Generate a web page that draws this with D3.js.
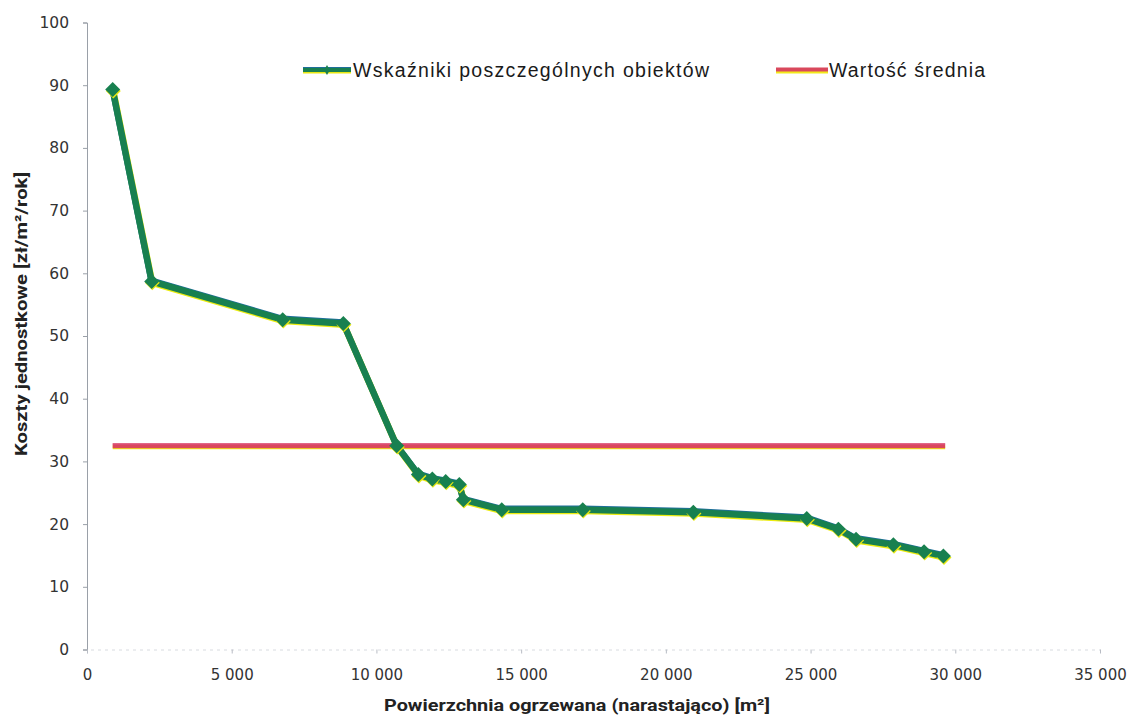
<!DOCTYPE html>
<html><head><meta charset="utf-8">
<script src="https://cdn.jsdelivr.net/npm/d3@7"></script>
<style>body{margin:0;background:#fff}svg{display:block}</style>
</head><body><svg id="c" width="1134" height="721"></svg>
<script>
const areaCum = [888, 2235, 6762, 8857, 10700, 11448, 11931, 12394, 12864, 13003, 14330, 17128, 20950, 24868, 25961, 26572, 27861, 28922, 29589];
const unitCost = [89.3, 58.7, 52.6, 52.0, 32.5, 27.9, 27.2, 26.8, 26.3, 23.9, 22.3, 22.3, 21.9, 20.9, 19.2, 17.6, 16.7, 15.6, 14.9];
const meanX = [888, 29650];
const meanValue = 32.5;
const xTicks = [0, 5000, 10000, 15000, 20000, 25000, 30000, 35000];
const yTicks = [0, 10, 20, 30, 40, 50, 60, 70, 80, 90, 100];
const seriesNames = ["Wskaźniki poszczególnych obiektów", "Wartość średnia"];
const xTitle = "Powierzchnia ogrzewana (narastająco) [m²]";
const yTitle = "Koszty jednostkowe [zł/m²/rok]";

const svg = d3.select("#c");
const x = d3.scaleLinear().domain([0, 35000]).range([87, 1100]);
const y = d3.scaleLinear().domain([0, 100]).range([649.5, 22.5]);
const fmt = v => v === 0 ? "0" : d3.format(",")(v).replace(/,/g, " ");

// axes
const yAxis = d3.axisLeft(y).tickValues(yTicks).tickSize(4).tickPadding(14).tickFormat(d => d);
const gy = svg.append("g").attr("transform", `translate(${x(0)},0)`).call(yAxis);
gy.select(".domain").attr("stroke", "#9aa0a8").attr("stroke-width", 1);
gy.selectAll(".tick line").attr("stroke", "#9aa0a8");
gy.selectAll("text").attr("font-family", "DejaVu Sans, Verdana, sans-serif").attr("font-size", 15.5).attr("fill", "#333");

const xAxis = d3.axisBottom(x).tickValues(xTicks).tickSize(4).tickPadding(16).tickFormat(fmt);
const gx = svg.append("g").attr("transform", `translate(0,${y(0)})`).call(xAxis);
gx.select(".domain").attr("stroke", "#d8dbe0").attr("stroke-width", 1).attr("stroke-dasharray", "3,4");
gx.selectAll(".tick line").attr("stroke", "#b8bcc4");
gx.selectAll("text").attr("font-family", "DejaVu Sans, Verdana, sans-serif").attr("font-size", 15).attr("fill", "#333");

// titles
svg.append("text").attr("x", 577).attr("y", 711).attr("text-anchor", "middle")
  .attr("font-family", "Roboto, Liberation Sans, sans-serif").attr("font-weight", "bold")
  .attr("font-size", 17).attr("fill", "#222").attr("textLength", 386).attr("lengthAdjust", "spacingAndGlyphs").text(xTitle);
svg.append("text").attr("transform", "translate(27,314) rotate(-90)").attr("text-anchor", "middle")
  .attr("font-family", "Roboto, Liberation Sans, sans-serif").attr("font-weight", "bold")
  .attr("font-size", 17).attr("fill", "#222").attr("textLength", 284).attr("lengthAdjust", "spacingAndGlyphs").text(yTitle);

// mean line
const meanData = meanX.map(v => [v, meanValue]);
const lineGen = d3.line().x(d => x(d[0])).y(d => y(d[1]));
svg.append("path").datum(meanData).attr("d", lineGen).attr("transform", "translate(0,1.6)")
  .attr("stroke", "#f2ea1a").attr("stroke-width", 4).attr("fill", "none");
svg.append("path").datum(meanData).attr("d", lineGen)
  .attr("stroke", "#d9485c").attr("stroke-width", 5).attr("fill", "none");
svg.append("path").datum(meanData).attr("d", lineGen).attr("transform", "translate(0,-1.6)")
  .attr("stroke", "#e0508a").attr("stroke-width", 1.2).attr("fill", "none").attr("opacity", 0.7);

// data series
const pts = areaCum.map((v, i) => [v, unitCost[i]]);
const gS = svg.append("g");
gS.append("path").datum(pts).attr("d", lineGen).attr("transform", "translate(0.6,1.4)")
  .attr("stroke", "#ecec10").attr("stroke-width", 6.5).attr("fill", "none").attr("stroke-linejoin", "round");
gS.append("path").datum(pts).attr("d", lineGen).attr("transform", "translate(-0.5,-1.1)")
  .attr("stroke", "#1f6f9a").attr("stroke-width", 6).attr("fill", "none").attr("stroke-linejoin", "round");
gS.append("path").datum(pts).attr("d", lineGen)
  .attr("stroke", "#188050").attr("stroke-width", 6.5).attr("fill", "none").attr("stroke-linejoin", "round");
const marker = d3.symbol().type(d3.symbolSquare).size(112);
gS.selectAll("path.shadow").data(pts).join("path").attr("class", "shadow")
  .attr("d", marker).attr("transform", d => `translate(${x(d[0]) + 0.6},${y(d[1]) + 1.4}) rotate(45)`).attr("fill", "#e8e812");
gS.selectAll("path.mk").data(pts).join("path").attr("class", "mk")
  .attr("d", marker).attr("transform", d => `translate(${x(d[0])},${y(d[1])}) rotate(45)`).attr("fill", "#188050");

// legend
const lg = svg.append("g");
lg.append("line").attr("x1", 303).attr("x2", 351).attr("y1", 71.5).attr("y2", 71.5).attr("stroke", "#e8e812").attr("stroke-width", 4);
lg.append("line").attr("x1", 303).attr("x2", 351).attr("y1", 68.5).attr("y2", 68.5).attr("stroke", "#1f6f9a").attr("stroke-width", 3);
lg.append("line").attr("x1", 303).attr("x2", 351).attr("y1", 70).attr("y2", 70).attr("stroke", "#188050").attr("stroke-width", 4);
lg.append("path").attr("d", d3.symbol().type(d3.symbolDiamond).size(30)).attr("transform", "translate(327,70)").attr("fill", "#188050");
lg.append("text").attr("x", 353).attr("y", 77).attr("font-family", "Liberation Sans, Arial, sans-serif")
  .attr("font-size", 19.5).attr("fill", "#1a1a1a").attr("textLength", 356).attr("lengthAdjust", "spacing").text(seriesNames[0]);
lg.append("line").attr("x1", 776).attr("x2", 828).attr("y1", 71.5).attr("y2", 71.5).attr("stroke", "#f2ea1a").attr("stroke-width", 4);
lg.append("line").attr("x1", 776).attr("x2", 828).attr("y1", 69.5).attr("y2", 69.5).attr("stroke", "#d9485c").attr("stroke-width", 4);
lg.append("text").attr("x", 829).attr("y", 77).attr("font-family", "Liberation Sans, Arial, sans-serif")
  .attr("font-size", 19.5).attr("fill", "#1a1a1a").attr("textLength", 156).attr("lengthAdjust", "spacing").text(seriesNames[1]);
</script></body></html>
